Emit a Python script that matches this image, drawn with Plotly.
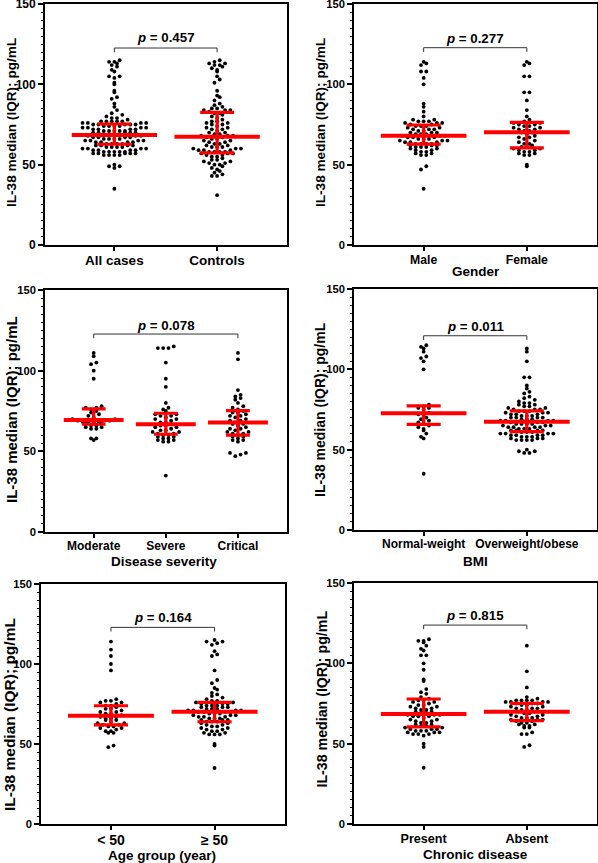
import plotly.graph_objects as go

W, H = 598, 863

# ---------------- data ----------------
all_cases = [115, 114, 114, 113, 112, 111, 109, 108, 105, 105, 104, 101, 100, 96, 95, 92, 91, 88, 86, 84, 82, 81, 80, 79, 79, 78,
             77, 77, 77, 77, 77,
             76, 76, 76, 76, 75, 75, 75, 75, 75, 74, 74, 74, 74, 73, 73, 73, 73, 72, 72, 72, 72, 71, 71, 71, 71, 71, 70, 70, 70, 70, 70,
             69, 69, 69, 69, 68, 68, 68, 67, 67, 67, 67, 66, 66, 66, 66, 65, 65, 65, 65, 64, 64, 64, 64, 63, 63, 63, 63,
             62, 62, 62, 62, 61, 61, 61, 61, 60, 60, 60, 60, 59, 59, 59, 59, 58, 58, 58, 58, 58, 57, 57, 57, 57, 57, 56, 56, 56, 56,
             50, 49, 49, 48, 35]
controls = [115, 114, 113, 113, 112, 112, 111, 110, 109, 108, 105, 103, 101, 96, 93, 92, 90, 88, 87, 86, 85, 85, 84, 84, 84, 83,
            82, 82, 81, 80, 79, 78, 77, 77, 76, 76, 75, 75, 74, 73, 73, 72, 72, 71, 70, 70, 69, 69, 68, 68, 68,
            67, 67, 66, 66, 65, 65, 64, 64, 63, 63, 62, 62, 61, 61, 61, 60, 60, 60, 59, 59, 59, 58, 58, 58, 58,
            57, 57, 57, 56, 56, 55, 55, 54, 53, 53, 52, 52, 51, 51, 50, 50, 49, 48, 47, 46, 45, 44, 43, 43, 31]
male = [114, 113, 112, 108, 108, 104, 100, 88, 86, 83, 80, 78, 78, 77, 77, 77, 76, 76, 76,
        75, 75, 74, 74, 74, 73, 73, 72, 72, 72, 71, 71, 70, 70, 70, 69, 69, 69, 68,
        68, 68, 67, 67, 67, 66, 66, 66, 65, 65, 65, 64, 64, 64, 63, 63, 63, 63,
        62, 62, 62, 61, 61, 61, 60, 60, 59, 59, 58, 58, 57, 57, 56, 56, 49, 47, 35]
female = [114, 113, 112, 105, 105, 95, 95, 90, 84, 80, 78, 77,
          76, 76, 75, 75, 74, 74, 73, 73, 72, 72, 71, 71, 70,
          70, 69, 68, 67, 67, 66, 65, 64, 63, 63, 62, 61, 61,
          60, 60, 59, 59, 58, 58, 57, 57, 56, 56, 50, 49]
moderate = [111, 109, 105, 104, 100, 95, 78, 77, 77, 76, 75, 74, 73, 72, 71, 70, 70,
            69, 69, 69, 68, 68, 68, 68, 67, 67, 66, 66, 65, 65, 64, 64, 58, 58, 57]
severe = [115, 114, 114, 114, 105, 95, 90, 80, 77, 76, 75, 73, 73, 72, 72, 71, 70, 70, 69, 68, 68, 67,
          66, 66, 65, 65, 64, 63, 63, 62, 62, 61, 61, 60, 60, 59, 59, 58, 58, 57, 57, 56, 56, 35]
critical = [111, 107, 88, 85, 84, 83, 82, 80, 78, 77, 76, 75, 74, 74, 73, 72, 72, 71, 70, 69, 69, 68,
            67, 67, 66, 65, 64, 64, 63, 62, 62, 61, 61, 60, 59, 59, 58, 57, 57, 56, 49, 49, 48, 47]
normal_weight = [115, 114, 113, 111, 108, 107, 105, 100, 78, 77, 77, 76, 76, 75, 73,
                 72, 71, 70, 69, 68, 67, 66, 65, 64, 63, 62, 60, 58, 57, 35]
overweight_obese = [113, 111, 105, 95, 95, 90, 88, 86, 85, 83, 82, 81, 80, 79, 79, 78, 78, 77, 77, 76, 76, 75, 75, 75,
                    74, 74, 74, 73, 73, 73, 72, 72, 72, 71, 71, 71, 70, 70, 70, 70, 69, 69, 69, 68, 68, 68, 68,
                    67, 67, 67, 66, 66, 66, 66, 65, 65, 65, 64, 64, 64, 64, 63, 63, 63, 62, 62, 62, 62, 61, 61,
                    61, 60, 60, 60, 60, 59, 59, 59, 59, 58, 58, 58, 57, 57, 57, 56, 56, 56, 56, 50, 49, 49, 48, 48]
age_under_50 = [114, 109, 105, 100, 96, 78, 77, 77, 76, 76, 75, 74, 74, 73, 72, 72, 71, 70, 70, 69, 69, 68,
                67, 67, 66, 66, 65, 65, 64, 63, 63, 62, 62, 61, 61, 60, 60, 59, 58, 58, 57, 57, 49, 48]
age_50_plus = [115, 114, 114, 113, 112, 108, 106, 105, 96, 90, 88, 85, 84, 82, 81, 80, 79, 78, 77, 77,
               76, 76, 75, 75, 75, 74, 74, 74, 73, 73, 73, 72, 72, 72, 71, 71, 71, 71, 70, 70,
               70, 70, 69, 69, 69, 68, 68, 68, 67, 67, 67, 66, 66, 66, 65, 65, 65, 64, 64, 64,
               63, 63, 62, 62, 61, 61, 60, 60, 59, 59, 58, 58, 57, 57, 56, 56, 56, 50, 49, 35]
chronic_present = [115, 114, 114, 113, 111, 109, 108, 105, 105, 100, 96, 90, 89, 84, 82, 81, 79, 78,
                   77, 77, 76, 76, 75, 74, 74, 73, 73, 72, 72, 71, 71, 70, 70, 69, 69,
                   68, 68, 68, 67, 67, 67, 66, 65, 65, 64, 64, 63, 63, 62, 62, 61, 61,
                   60, 60, 59, 59, 59, 58, 58, 58, 57, 57, 57, 56, 56, 56, 55, 50, 48, 35]
chronic_absent = [111, 95, 85, 79, 78, 77, 77, 77, 77, 76, 76, 76, 76, 75,
                  75, 75, 74, 74, 73, 73, 72, 72, 72, 71, 71, 70, 70,
                  69, 69, 68, 68, 67, 67, 66, 66, 66, 65, 65, 65, 64,
                  64, 63, 63, 62, 62, 61, 61, 60, 60, 57, 56, 56, 49, 48]

# medians and interquartile ranges as drawn (red bars)
medians = [[68.5, 67.4], [68.0, 70.1], [69.4, 66.8, 67.8], [72.6, 67.4], [67.7, 70.2], [68.5, 69.9]]
q1s = [[62.7, 57.4], [62.8, 60.5], [66.8, 60.6, 60.1], [65.7, 61.2], [61.9, 63.9], [60.4, 64.3]]
q3s = [[75.3, 82.6], [74.7, 76.3], [76.3, 73.6, 75.2], [77.2, 74.2], [73.9, 76.0], [77.8, 75.1]]

category_labels = [["All cases", "Controls"], ["Male", "Female"], ["Moderate", "Severe", "Critical"],
                   ["Normal-weight", "Overweight/obese"], ["< 50", "≥ 50"], ["Present", "Absent"]]
group_values = [[all_cases, controls], [male, female], [moderate, severe, critical],
                [normal_weight, overweight_obese], [age_under_50, age_50_plus], [chronic_present, chronic_absent]]
x_titles = ["", "Gender", "Disease severity", "BMI", "Age group (year)", "Chronic disease"]
p_values = ["0.457", "0.277", "0.078", "0.011", "0.164", "0.815"]
y_title = "IL-38 median (IQR); pg/mL"

# ---------------- layout geometry (pixels) ----------------
boxes = [(45, 287, 4, 245), (354, 597, 4, 245), (45, 287, 290, 532),
         (354, 597, 289, 530), (41, 285, 584, 824), (354, 597, 583, 824)]
ytitle_pos = [(12, 123), (321, 123), (11, 410), (320, 410), (9, 715), (321.5, 699)]
ytitle_size = [13.6, 13.6, 15.0, 14.0, 15.5, 14.2]
xtick_size = [13.5, 12.2, 12.0, 12.0, 14.0, 12.6]
ytick_size = [12.0, 11.2, 11.2, 11.2, 11.2, 11.2]
xtitle_pos = [None, (476, 271), (164, 561), (475, 561), (162, 855), (475.5, 854)]
bracket_y = [122.6, 122.8, 122.7, 120.9, 122.9, 123.8]
ptext_y = [129.4, 128.8, 128.3, 126.5, 129.0, 129.6]

FONT = "Liberation Sans, Arial, sans-serif"
RED = "#FF0000"
BLACK = "black"


def beeswarm(values, center, ppx, ppy, dot_dx=5.3, row_px=4.3):
    bin_u = row_px / ppy
    rows = {}
    for v in sorted(values):
        rows.setdefault(int(round(v / bin_u)), []).append(v)
    xs, ys = [], []
    for r, vals in rows.items():
        n = len(vals)
        order = sorted(range(n), key=lambda k: abs(k - (n - 1) / 2))
        for k, v in zip(order, vals):
            xs.append(center + (k - (n - 1) / 2) * dot_dx / ppx)
            ys.append(v)
    return xs, ys


fig = go.Figure()
layout = dict(width=W, height=H, margin=dict(l=0, r=0, t=0, b=0, autoexpand=False), showlegend=False,
              plot_bgcolor="white", paper_bgcolor="white")
annotations = []

for i in range(6):
    n = len(category_labels[i])
    x0, x1, y0, y1 = boxes[i]
    xr = [-0.675, n - 1 + 0.68]
    ppx = (x1 - x0) / (xr[1] - xr[0])
    ppy = (y1 - y0) / 150.0
    ax = "" if i == 0 else str(i + 1)
    xa, ya = "x" + ax, "y" + ax

    # dots
    for c, vals in enumerate(group_values[i]):
        xs, ys = beeswarm(vals, c, ppx, ppy)
        fig.add_trace(go.Scatter(x=xs, y=ys, mode="markers", xaxis=xa, yaxis=ya,
                                 marker=dict(size=3.8, color=BLACK), hoverinfo="skip"))
    # medians
    for c in range(n):
        m = medians[i][c]
        fig.add_trace(go.Scatter(x=[c - 0.415, c + 0.415], y=[m, m], mode="lines", xaxis=xa, yaxis=ya,
                                 line=dict(color=RED, width=4), hoverinfo="skip"))
    # IQR bars
    fig.add_trace(go.Scatter(x=list(range(n)), y=medians[i], mode="markers", xaxis=xa, yaxis=ya,
                             marker=dict(size=1, color="rgba(0,0,0,0)"),
                             error_y=dict(type="data", symmetric=False,
                                          array=[q3s[i][c] - medians[i][c] for c in range(n)],
                                          arrayminus=[medians[i][c] - q1s[i][c] for c in range(n)],
                                          color=RED, thickness=3.2, width=0.165 * ppx),
                             hoverinfo="skip"))
    # bracket
    by = bracket_y[i]
    fig.add_trace(go.Scatter(x=[0, 0, n - 1, n - 1], y=[by - 2.6, by, by, by - 2.6], mode="lines",
                             xaxis=xa, yaxis=ya, line=dict(color="#333333", width=1), hoverinfo="skip"))
    annotations.append(dict(x=(n - 1) / 2, y=ptext_y[i], xref=xa, yref=ya, showarrow=False,
                            text="<i>p</i> = " + p_values[i], yanchor="middle",
                            font=dict(family=FONT, size=13.3, color=BLACK, weight="bold")))

    layout["xaxis" + ax] = dict(domain=[x0 / W, x1 / W], range=xr, anchor=ya, automargin=False,
                                tickvals=list(range(n)), ticktext=category_labels[i],
                                ticks="outside", ticklen=4, tickwidth=1.5, tickcolor=BLACK,
                                ticklabelstandoff=-2, ticklabeloverflow="allow",
                                showline=True, mirror=True, linecolor=BLACK, linewidth=1.8,
                                showgrid=False, zeroline=False,
                                tickfont=dict(family=FONT, size=xtick_size[i], color=BLACK, weight="bold"))
    layout["yaxis" + ax] = dict(domain=[1 - y1 / H, 1 - y0 / H], range=[0, 150], anchor=xa, automargin=False,
                                tickvals=[0, 50, 100, 150], ticks="outside", ticklen=5, tickwidth=1.5,
                                tickcolor=BLACK, showline=True, mirror=True, linecolor=BLACK, linewidth=1.8,
                                showgrid=False, zeroline=False, ticklabeloverflow="allow",
                                minor=dict(ticks="outside", ticklen=2.5, tickwidth=1, tickcolor=BLACK, dtick=5,
                                           showgrid=False),
                                tickfont=dict(family=FONT, size=ytick_size[i], color=BLACK, weight="bold"))

    tx, ty = ytitle_pos[i]
    annotations.append(dict(x=tx / W, y=1 - ty / H, xref="paper", yref="paper", showarrow=False,
                            text=y_title, textangle=-90, xanchor="center", yanchor="middle",
                            font=dict(family=FONT, size=ytitle_size[i], color=BLACK, weight="bold")))
    if xtitle_pos[i]:
        tx, ty = xtitle_pos[i]
        annotations.append(dict(x=tx / W, y=1 - ty / H, xref="paper", yref="paper", showarrow=False,
                                text=x_titles[i], xanchor="center", yanchor="middle",
                                font=dict(family=FONT, size=13.5, color=BLACK, weight="bold")))

layout["annotations"] = annotations
fig.update_layout(**layout)
fig.write_html("out.html", config={"displayModeBar": False},
               post_script="document.body.style.margin='0px';document.body.style.overflow='hidden';")
